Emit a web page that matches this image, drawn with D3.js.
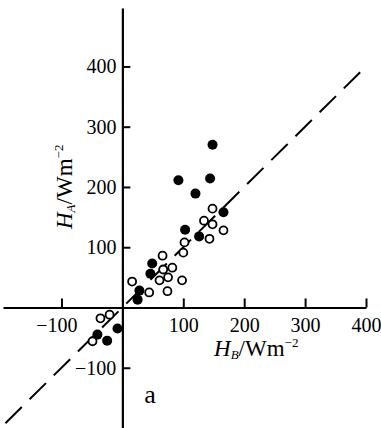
<!DOCTYPE html>
<html>
<head>
<meta charset="utf-8">
<script src="https://cdn.jsdelivr.net/npm/d3@7"></script>
<style>
body { margin: 0; background: #fff; }
text { font-family: "Liberation Serif", "Times New Roman", serif; fill: #000; }
</style>
</head>
<body>
<script>
var width = 381;
var height = 428;

// H_B (x) and H_A (y), W m^-2
var solidPts = [
    [92, 211], [120, 189], [148, 270], [144, 214], [103, 129], [126, 118],
    [166, 158], [49, 73], [46, 56], [28, 28], [25, 13], [-8, -35],
    [-25, -55], [-41, -45]
];
var hollowPts = [
    [148, 164], [134, 144], [148, 138], [143, 114], [166, 128], [102, 108],
    [100, 91], [98, 45], [66, 86], [67, 63], [82, 66], [75, 50], [61, 45],
    [74, 27], [44, 25], [16, 43], [-36, -18], [-21, -12], [-49, -56]
];
var xTicks = [-100, 100, 200, 300, 400];
var yTicks = [-100, 100, 200, 300, 400];
var lineEnds = [-192, 393];

var svg = d3.select("body").append("svg")
    .attr("width", width)
    .attr("height", height);

var x = d3.scaleLinear().domain([-196, 400]).range([3, 366]);
var y = d3.scaleLinear().domain([-200, 497]).range([428, 8]);

function fmt(d) { return d < 0 ? "\u2212" + Math.abs(d) : d; }

// 1:1 line
svg.append("line")
    .attr("x1", x(lineEnds[0])).attr("y1", y(lineEnds[0]))
    .attr("x2", x(lineEnds[1])).attr("y2", y(lineEnds[1]))
    .attr("stroke", "#000")
    .attr("stroke-width", 2)
    .attr("stroke-dasharray", "23,11");

var xAxis = svg.append("g")
    .attr("transform", "translate(0," + y(0) + ")")
    .call(d3.axisBottom(x).tickValues(xTicks).tickSize(-9).tickSizeOuter(0)
        .tickPadding(10).tickFormat(fmt));

var yAxis = svg.append("g")
    .attr("transform", "translate(" + x(0) + ",0)")
    .call(d3.axisLeft(y).tickValues(yTicks).tickSize(-8).tickSizeOuter(0)
        .tickPadding(6).tickFormat(fmt));

[xAxis, yAxis].forEach(function(g) {
    g.select(".domain").attr("stroke-width", 2.2);
    g.selectAll(".tick line").attr("stroke-width", 2);
    g.selectAll(".tick text")
        .style("font-family", "'Liberation Serif', serif")
        .attr("font-size", 20);
});
xAxis.selectAll(".tick text").attr("dx", function(d) { return d < 0 ? -5 : 0; });

svg.selectAll("circle.solid")
    .data(solidPts)
    .enter().append("circle")
        .attr("class", "solid")
        .attr("cx", function(d) { return x(d[0]); })
        .attr("cy", function(d) { return y(d[1]); })
        .attr("r", 5)
        .attr("fill", "#000");

svg.selectAll("circle.hollow")
    .data(hollowPts)
    .enter().append("circle")
        .attr("class", "hollow")
        .attr("cx", function(d) { return x(d[0]); })
        .attr("cy", function(d) { return y(d[1]); })
        .attr("r", 4)
        .attr("fill", "#fff")
        .attr("stroke", "#000")
        .attr("stroke-width", 1.8);

// axis titles
var xt = svg.append("text")
    .attr("x", 214).attr("y", 356)
    .attr("font-size", 23);
xt.append("tspan").attr("font-style", "italic").text("H");
xt.append("tspan").attr("font-style", "italic").attr("font-size", 13).attr("dy", 3).text("B");
xt.append("tspan").attr("dy", -3).text("/Wm");
xt.append("tspan").attr("font-size", 13).attr("dy", -9).text("\u22122");

var yt = svg.append("text")
    .attr("transform", "translate(72,229) rotate(-90)")
    .attr("font-size", 23);
yt.append("tspan").attr("font-style", "italic").text("H");
yt.append("tspan").attr("font-style", "italic").attr("font-size", 13).attr("dy", 3).text("A");
yt.append("tspan").attr("dy", -3).text("/Wm");
yt.append("tspan").attr("font-size", 13).attr("dy", -9).text("\u22122");

svg.append("text")
    .attr("x", 150).attr("y", 403)
    .attr("text-anchor", "middle")
    .attr("font-size", 26)
    .text("a");
</script>
</body>
</html>
